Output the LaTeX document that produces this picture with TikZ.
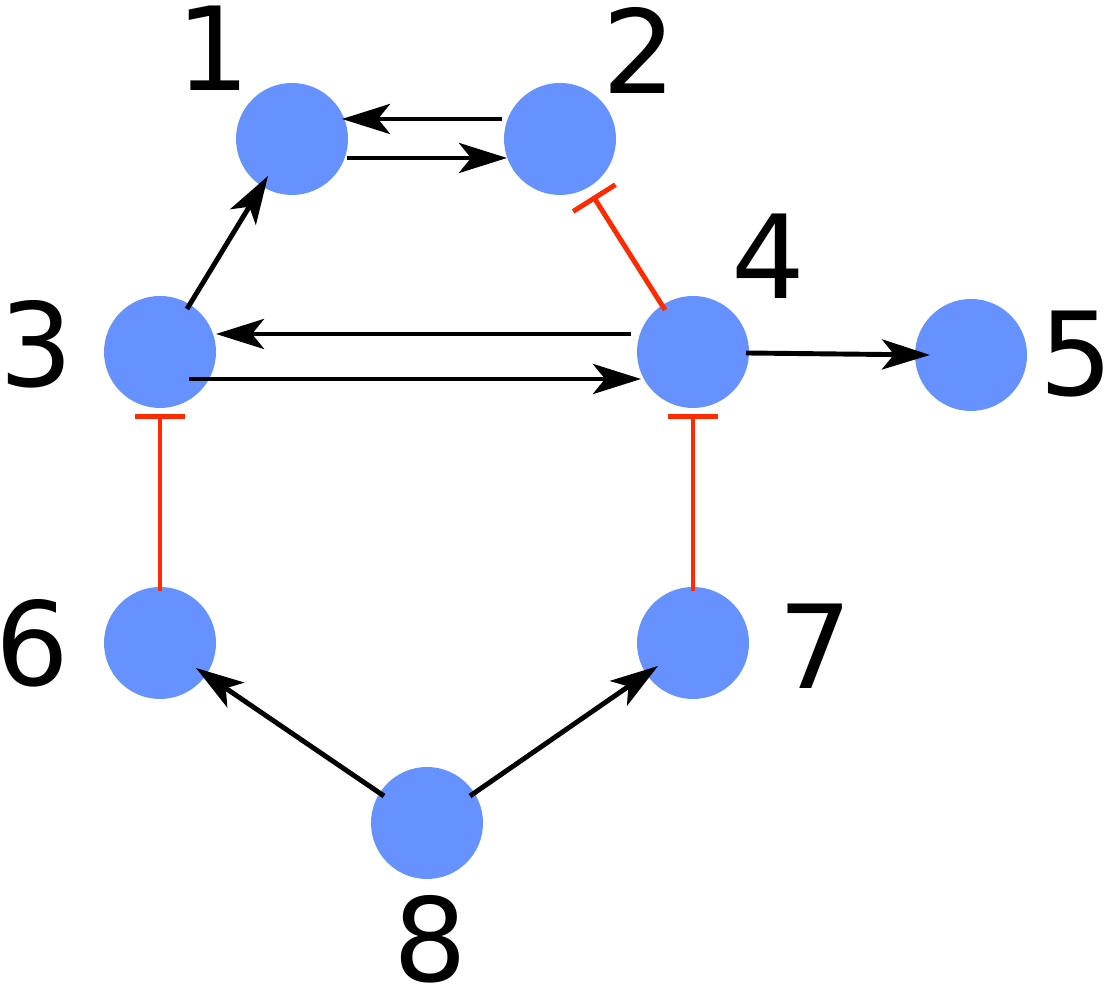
\documentclass[tikz,border=0pt]{standalone}
\usepackage{fontspec}
\setmainfont{DejaVu Sans}
\definecolor{nodeblue}{RGB}{102,146,255}
\definecolor{inhred}{RGB}{255,42,0}
\usetikzlibrary{arrows.meta,calc}

\begin{document}
\begin{tikzpicture}[
    gene/.style={circle, fill=nodeblue, minimum size=1.12cm, inner sep=0pt, outer sep=0pt},
    num/.style={font=\fontsize{33}{33}\selectfont, inner sep=0pt},
    act/.style={line width=1.4pt, -{Stealth[length=0.48cm, width=0.3cm, inset=0.12cm]}},
    inh/.style={line width=1.4pt, draw=inhred, -{Bar[width=0.5cm, line width=1.4pt]}}
]
    \useasboundingbox (0,0) rectangle (11.09,9.94);
    % genes
    \node[gene] (n1) at (2.92,8.55) {};
    \node[gene] (n2) at (5.60,8.55) {};
    \node[gene] (n3) at (1.60,6.42) {};
    \node[gene] (n4) at (6.93,6.42) {};
    \node[gene] (n5) at (9.71,6.39) {};
    \node[gene] (n6) at (1.60,3.51) {};
    \node[gene] (n7) at (6.93,3.51) {};
    \node[gene] (n8) at (4.27,1.71) {};
    % labels
    \node[num] (l1) at ($(n1)+(-0.79,0.91)$) {1};
    \node[num] (l2) at ($(n2)+(0.79,0.89)$) {2};
    \node[num] (l3) at ($(n3)+(-1.24,0.08)$) {3};
    \node[num] (l4) at ($(n4)+(0.75,0.96)$) {4};
    \node[num] (l5) at ($(n5)+(1.05,0.01)$) {5};
    \node[num] (l6) at ($(n6)+(-1.28,0)$) {6};
    \node[num] (l7) at ($(n7)+(1.22,-0.03)$) {7};
    \node[num] (l8) at ($(n8)+(0.03,-1.16)$) {8};
    % activations
    \draw[act] ($(n2)+(-0.58,0.20)$) -- ($(n1)+(0.50,0.20)$);
    \draw[act] ($(n1)+(0.55,-0.19)$) -- ($(n2)+(-0.53,-0.19)$);
    \draw[act] ($(n3)+(0.27,0.43)$) -- ($(n1)+(-0.24,-0.37)$);
    \draw[act] ($(n4)+(-0.62,0.18)$) -- ($(n3)+(0.56,0.18)$);
    \draw[act] ($(n3)+(0.29,-0.27)$) -- ($(n4)+(-0.52,-0.27)$);
    \draw[act] ($(n4)+(0.53,-0.01)$) -- ($(n5)+(-0.41,0)$);
    \draw[act] ($(n8)+(-0.43,0.27)$) -- ($(n6)+(0.36,-0.25)$);
    \draw[act] ($(n8)+(0.43,0.27)$) -- ($(n7)+(-0.35,-0.23)$);
    % inhibitions
    \draw[inh] ($(n4)+(-0.28,0.42)$) -- ($(n2)+(0.33,-0.57)$);
    \draw[inh] ($(n6)+(0,0.52)$) -- ($(n3)+(0,-0.62)$);
    \draw[inh] ($(n7)+(0,0.52)$) -- ($(n4)+(0,-0.62)$);
\end{tikzpicture}
\end{document}
